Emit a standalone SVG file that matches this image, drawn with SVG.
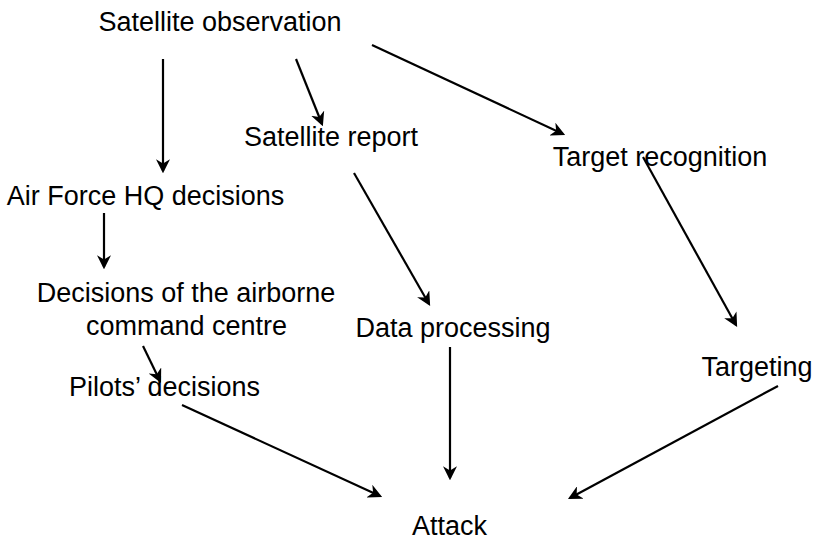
<svg xmlns="http://www.w3.org/2000/svg" width="816" height="542" viewBox="0 0 816 542">
<style>
  text { font-family: "Liberation Sans", Arial, sans-serif; font-size: 27px; fill: #000; text-anchor: middle; }
  .conn line { stroke: #000; stroke-width: 2.2; fill: none; marker-end: url(#arr); }
</style>
<defs>
  <marker id="arr" viewBox="0 0 12 12" refX="10" refY="6" markerWidth="14" markerHeight="14" markerUnits="userSpaceOnUse" orient="auto">
    <path d="M0,0 L12,6 L0,12 L3.5,6 z" fill="#000"/>
  </marker>
</defs>
<rect width="816" height="542" fill="#fff"/>
<g id="sat-obs"><text x="220" y="31">Satellite observation</text></g>
<g id="sat-report"><text x="331" y="146">Satellite report</text></g>
<g id="target-rec"><text x="660" y="166">Target recognition</text></g>
<g id="af-hq"><text x="145.5" y="205">Air Force HQ decisions</text></g>
<g id="airborne"><text x="186" y="302">Decisions of the airborne</text><text x="186.5" y="335">command centre</text></g>
<g id="data-proc"><text x="453" y="337">Data processing</text></g>
<g id="pilots"><text x="164.5" y="396">Pilots’ decisions</text></g>
<g id="targeting"><text x="757" y="376">Targeting</text></g>
<g id="attack"><text x="449.5" y="535">Attack</text></g>
<g id="connectors" class="conn">
  <line x1="163" y1="59" x2="163" y2="171"/>
  <line x1="296" y1="59" x2="322" y2="124"/>
  <line x1="372" y1="45" x2="563" y2="134"/>
  <line x1="104" y1="213" x2="104" y2="267"/>
  <line x1="354" y1="173" x2="429" y2="304"/>
  <line x1="643" y1="157" x2="736" y2="325"/>
  <line x1="143" y1="346" x2="160" y2="381"/>
  <line x1="450" y1="347" x2="450" y2="478"/>
  <line x1="182" y1="405" x2="380" y2="496"/>
  <line x1="778" y1="386" x2="570" y2="498"/>
</g>
</svg>
